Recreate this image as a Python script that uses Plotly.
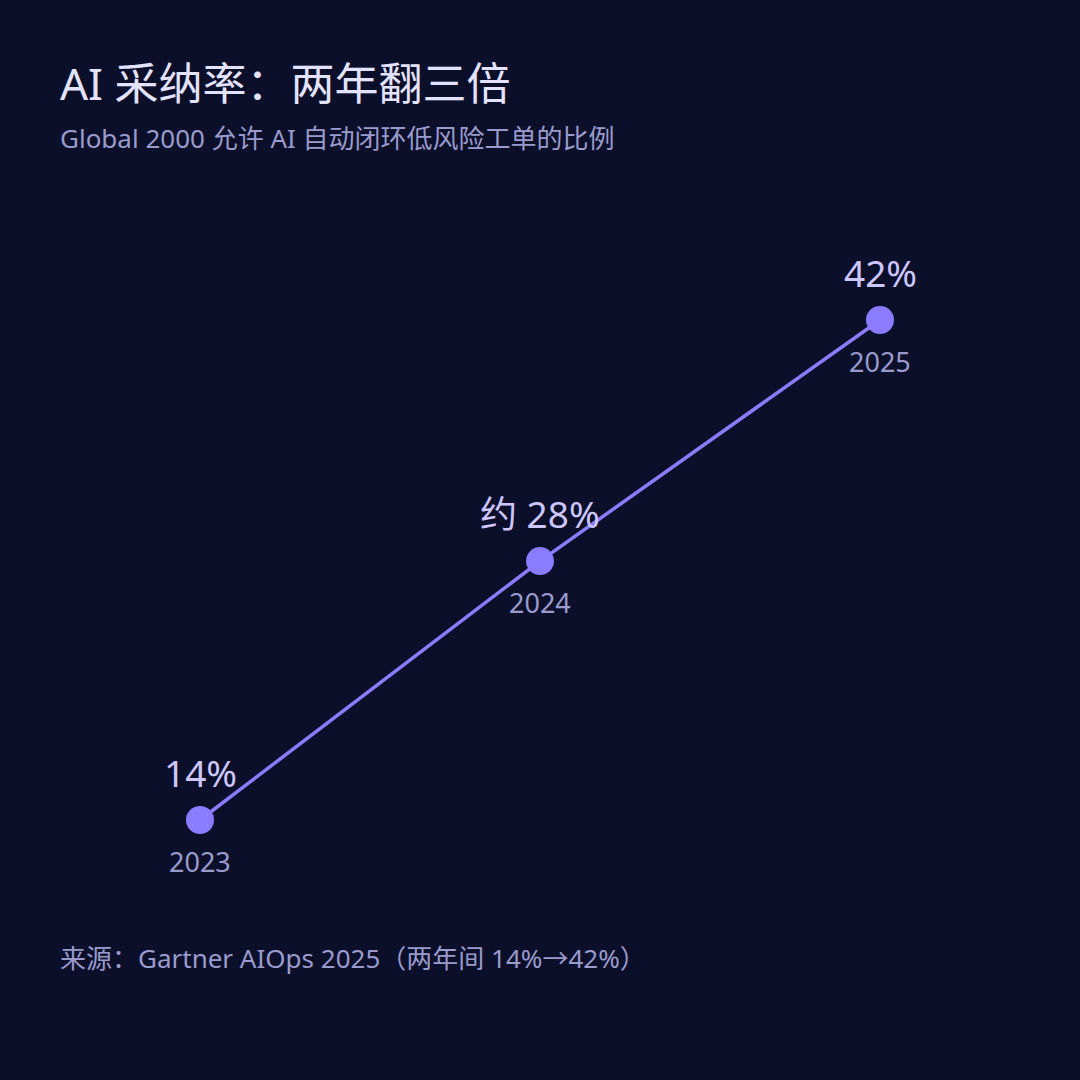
import plotly.graph_objects as go

years = [2023, 2024, 2025]
adoption = [14, 28.5, 42]
value_labels = ["14%", "约 28%", "42%"]
year_labels = ["2023", "2024", "2025"]

title = "AI 采纳率：两年翻三倍"
subtitle = "Global 2000 允许 AI 自动闭环低风险工单的比例"
source = "来源：Gartner AIOps 2025（两年间 14%→42%）"

BG = "#0b0f2a"
LINE = "#8b7cff"
FONT = "Noto Sans, Noto Sans CJK SC, sans-serif"

fig = go.Figure()
fig.add_trace(go.Scatter(
    x=years, y=adoption,
    mode="lines+markers",
    line=dict(color=LINE, width=3.5),
    marker=dict(size=28, color=LINE),
    hoverinfo="skip",
))

# value labels above, year labels below each point
for x, y, v, yr in zip(years, adoption, value_labels, year_labels):
    fig.add_annotation(x=x, y=y, text=v, showarrow=False, yshift=48,
                       font=dict(size=37, color="#cdc6ff", family=FONT))
    fig.add_annotation(x=x, y=y, text=yr, showarrow=False, yshift=-41,
                       font=dict(size=27, color="#9a9bcc", family=FONT))

fig.add_annotation(xref="paper", yref="paper", x=58/1080, y=1 - 83/1080,
                   text=title, showarrow=False, xanchor="left", yanchor="middle",
                   font=dict(size=44, color="#e4e3ff", family=FONT))
fig.add_annotation(xref="paper", yref="paper", x=58/1080, y=1 - 138/1080,
                   text=subtitle, showarrow=False, xanchor="left", yanchor="middle",
                   font=dict(size=26, color="#9a9bcc", family=FONT))
fig.add_annotation(xref="paper", yref="paper", x=58/1080, y=1 - 958/1080,
                   text=source, showarrow=False, xanchor="left", yanchor="middle",
                   font=dict(size=26, color="#9a9bcc", family=FONT))

fig.update_layout(
    width=1080, height=1080,
    paper_bgcolor=BG, plot_bgcolor=BG,
    margin=dict(l=0, r=0, t=0, b=0),
    showlegend=False,
    xaxis=dict(range=[2023 - 200/340, 2025 + 200/340], visible=False, fixedrange=True),
    yaxis=dict(range=[14 - 260*28/500, 42 + 320*28/500], visible=False, fixedrange=True),
)

fig.write_html("out.html", config={"displayModeBar": False},
               post_script="document.body.style.margin='0';document.body.style.background='%s';" % BG)
